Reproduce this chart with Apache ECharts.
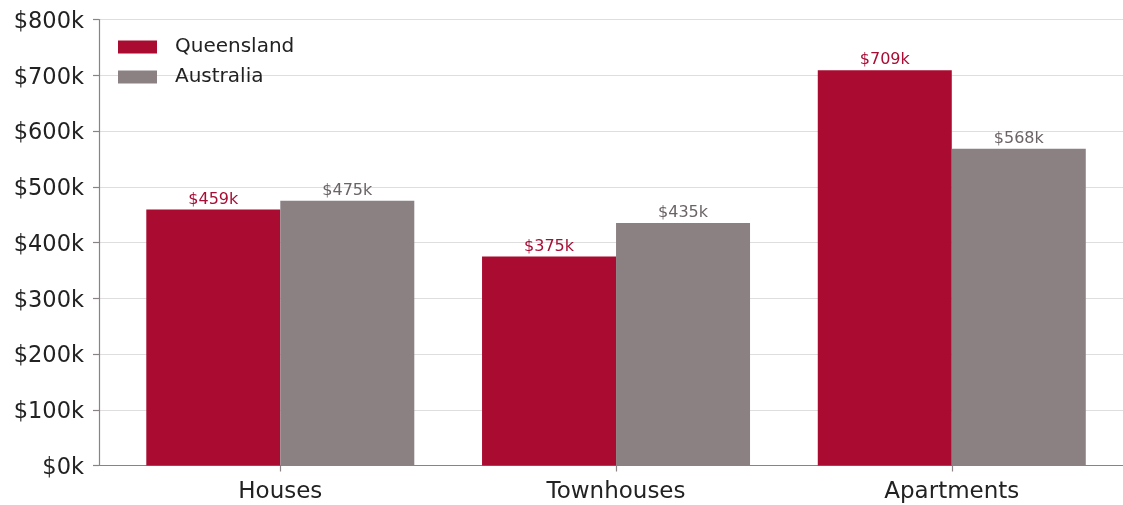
<!DOCTYPE html>
<html>
<head>
<meta charset="utf-8">
<script src="https://cdn.jsdelivr.net/npm/echarts@6/dist/echarts.min.js"></script>
<style>
  html, body { margin: 0; padding: 0; background: #ffffff; }
  #chart { width: 1123px; height: 505px; }
</style>
</head>
<body>
<div id="chart"></div>
<script>
// Median property prices, in thousands of dollars
const categories = ['Houses', 'Townhouses', 'Apartments'];
const queensland = [459, 375, 709];
const australia = [475, 435, 568];
const yTicks = [0, 100, 200, 300, 400, 500, 600, 700, 800];

const FONT = 'DejaVu Sans';
const RED = '#a90b31';
const GREY = '#8b8183';
const AXIS = '#8a8284';

// Bars sit on a numeric x scale so the group centres land at 0, 1, 2
const pairs = vals => vals.map((v, i) => [i, v]);

const chart = echarts.init(document.getElementById('chart'), null, { renderer: 'canvas' });
chart.setOption({
  animation: false,
  backgroundColor: '#ffffff',
  grid: { left: 99, right: 0, top: 19.5, bottom: 39.5, containLabel: false },
  legend: {
    orient: 'vertical',
    left: 113,
    top: 32,
    itemWidth: 39,
    itemHeight: 13,
    itemGap: 10,
    icon: 'rect',
    textStyle: { fontFamily: FONT, fontSize: 20, color: '#222222', padding: [0, 0, 0, 13] },
    data: ['Queensland', 'Australia']
  },
  xAxis: {
    type: 'value',
    min: -0.54,
    max: 2.51,
    axisLine: { show: true, onZero: false, lineStyle: { color: AXIS, width: 1.2 } },
    axisTick: { show: true, length: 6, customValues: [0, 1, 2], lineStyle: { color: AXIS, width: 1.2 } },
    axisLabel: {
      customValues: [0, 1, 2],
      formatter: v => categories[Math.round(v)] || '',
      fontFamily: FONT, fontSize: 23, color: '#222222', margin: 15
    },
    splitLine: { show: false }
  },
  yAxis: {
    type: 'value',
    min: 0,
    max: 800,
    interval: 100,
    axisLine: { show: true, onZero: false, lineStyle: { color: AXIS, width: 1.2 } },
    axisTick: { show: true, length: 6, lineStyle: { color: AXIS, width: 1.2 } },
    axisLabel: {
      formatter: v => yTicks.includes(v) ? '{t|$' + v + 'k}' : '',
      margin: 15,
      rich: {
        t: { fontFamily: FONT, fontSize: 22.5, color: '#222222', padding: [5, 0, 0, 0] }
      }
    },
    splitLine: { show: true, lineStyle: { color: '#dedede', width: 1 } }
  },
  series: [
    {
      name: 'Queensland',
      type: 'bar',
      data: pairs(queensland),
      barWidth: 134,
      barGap: '0%',
      itemStyle: { color: RED },
      label: {
        show: true, position: 'top', distance: 2,
        formatter: p => '$' + p.value[1] + 'k',
        fontFamily: FONT, fontSize: 16, color: '#a80d35'
      }
    },
    {
      name: 'Australia',
      type: 'bar',
      data: pairs(australia),
      barWidth: 134,
      barGap: '0%',
      itemStyle: { color: GREY },
      label: {
        show: true, position: 'top', distance: 2,
        formatter: p => '$' + p.value[1] + 'k',
        fontFamily: FONT, fontSize: 16, color: '#6b6466'
      }
    }
  ]
});
</script>
</body>
</html>
